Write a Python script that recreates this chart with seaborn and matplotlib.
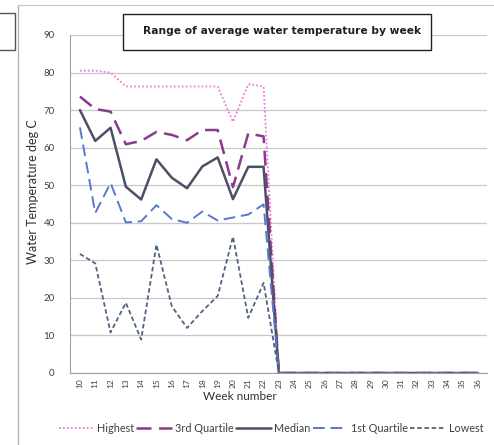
import matplotlib
matplotlib.use("Agg")
import matplotlib.pyplot as plt
import seaborn as sns
import pandas as pd
from matplotlib.patches import Rectangle
from matplotlib.lines import Line2D

weeks = [10, 11, 12, 13, 14, 15, 16, 17, 18, 19, 20, 21, 22, 23, 24, 25, 26, 27,
         28, 29, 30, 31, 32, 33, 34, 35, 36]
highest = [80.5, 80.5, 80.0, 76.3, 76.3, 76.3, 76.3, 76.3, 76.3, 76.3, 66.9, 76.9, 76.3,
           0, 0, 0, 0, 0, 0, 0, 0, 0, 0, 0, 0, 0, 0]
third_q = [73.6, 70.3, 69.6, 60.9, 61.8, 64.2, 63.4, 62.0, 64.7, 64.7, 49.5, 63.8, 63.0,
           0, 0, 0, 0, 0, 0, 0, 0, 0, 0, 0, 0, 0, 0]
median = [70.0, 61.8, 65.3, 49.6, 46.2, 56.9, 52.0, 49.2, 55.0, 57.4, 46.3, 54.9, 54.9,
          0, 0, 0, 0, 0, 0, 0, 0, 0, 0, 0, 0, 0, 0]
first_q = [65.4, 42.6, 50.6, 40.1, 40.4, 44.7, 41.0, 40.0, 43.0, 40.6, 41.4, 42.2, 44.9,
           0, 0, 0, 0, 0, 0, 0, 0, 0, 0, 0, 0, 0, 0]
lowest = [31.7, 29.2, 10.8, 18.7, 8.9, 34.2, 17.8, 12.0, 16.5, 20.5, 36.3, 14.7, 24.0,
          0, 0, 0, 0, 0, 0, 0, 0, 0, 0, 0, 0, 0, 0]
series_names = ["Highest", "3rd Quartile", "Median", "1st Quartile", "Lowest"]
y_ticks = [0, 10, 20, 30, 40, 50, 60, 70, 80, 90]
title = "Range of average water temperature by week"
x_label = "Week number"
y_label = "Water Temperature deg C"

sns.set_style("white")
plt.rcParams['font.family'] = ['Lato', 'DejaVu Sans']

fig = plt.figure(figsize=(4.94, 4.45), dpi=100)
W, H = 494, 445
ax = fig.add_axes([70 / W, 1 - 373 / H, (487 - 70) / W, (373 - 35) / H])

styles = {
    "Highest": dict(color="#F07AD8", lw=1.3, ls=(0, (1, 1.2))),
    "3rd Quartile": dict(color="#8A3A8E", lw=1.8, ls=(0, (6, 3))),
    "Median": dict(color="#4E4E66", lw=1.8, ls="-"),
    "1st Quartile": dict(color="#5878CC", lw=1.4, ls=(0, (6, 3))),
    "Lowest": dict(color="#4F6480", lw=1.3, ls=(0, (2.5, 1.5))),
}
values = [highest, third_q, median, first_q, lowest]

for name, vals in zip(series_names, values):
    df = pd.DataFrame({"week": weeks, "temp": vals})
    st = styles[name]
    sns.lineplot(data=df, x="week", y="temp", ax=ax, color=st["color"],
                 linewidth=st["lw"], linestyle=st["ls"], legend=False)

ax.set_xlim(9.35, 36.6)
ax.set_ylim(0, 90)
ax.set_yticks(y_ticks)
ax.set_xticks(weeks)
ax.set_xticklabels([str(w) for w in weeks], rotation=90, fontsize=6, color="#404040")
ax.set_yticklabels([str(v) for v in y_ticks], fontsize=7, color="#404040")
ax.tick_params(axis="x", length=0, pad=4)
ax.tick_params(axis="y", length=0, pad=11)
ax.grid(axis="y", color="#C8C8C8", linewidth=0.9)
ax.grid(axis="x", visible=False)
for s in ["top", "right"]:
    ax.spines[s].set_visible(False)
ax.spines["left"].set_color("#A0A0A0")
ax.spines["bottom"].set_color("#A0A0A0")
ax.set_xlabel("")
ax.set_ylabel("")

fig.text(240 / W, 1 - 396 / H, x_label, ha="center", va="center", fontsize=8.5, color="#303030")
fig.text(33 / W, 1 - 192 / H, y_label, ha="center", va="center", rotation=90,
         fontsize=9, color="#303030")

# title box
fig.patches.append(Rectangle((123 / W, 1 - 50 / H), (431 - 123) / W, (50 - 14) / H,
                             transform=fig.transFigure, facecolor="white",
                             edgecolor="#222222", linewidth=1.0, zorder=5))
fig.text(282 / W, 1 - 31 / H, title, ha="center", va="center", fontsize=7.7,
         fontweight="bold", color="#202020", zorder=6, family=["DejaVu Sans"])

# frame edges of the chart area
fig.add_artist(Line2D([18 / W, 18 / W], [0, 1 - 5 / H], transform=fig.transFigure,
                      color="#B0B0B0", lw=0.9))
fig.add_artist(Line2D([18 / W, 1], [1 - 5 / H, 1 - 5 / H], transform=fig.transFigure,
                      color="#C8C8C8", lw=0.9))
fig.patches.append(Rectangle((-5 / W, 1 - 50 / H), 20 / W, 37 / H,
                             transform=fig.transFigure, facecolor="white",
                             edgecolor="#555555", linewidth=1.0))

handles = [Line2D([0], [0], color=styles[n]["color"], lw=styles[n]["lw"],
                  ls=styles[n]["ls"]) for n in series_names]
fig.legend(handles, series_names, loc="center", bbox_to_anchor=(271 / W, 1 - 428 / H),
           ncol=5, frameon=False, fontsize=7.8, handlelength=3.3, columnspacing=0.2,
           handletextpad=0.25, labelcolor="#404040", borderpad=0)

fig.savefig("out.png", dpi=100)
